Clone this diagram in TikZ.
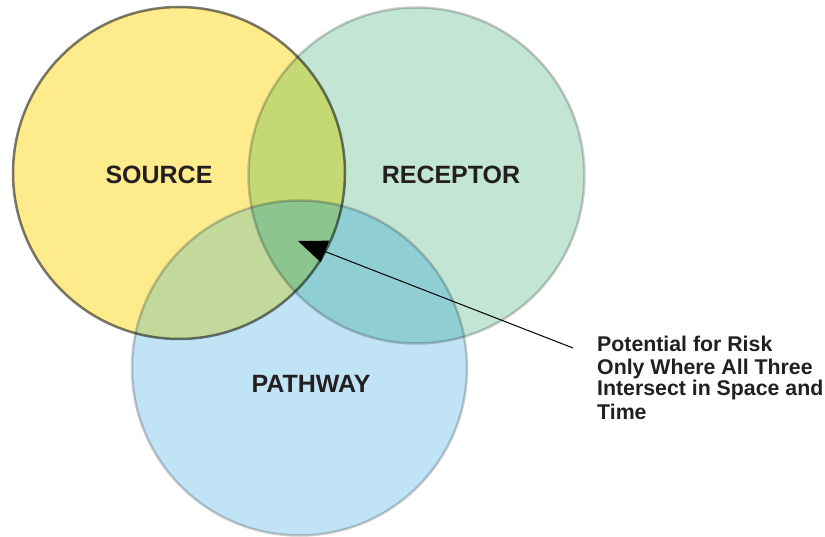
\documentclass[tikz,border=0pt]{standalone}
\usepackage{fontspec}
\setmainfont{Liberation Sans}
\usetikzlibrary{arrows.meta}

% region colours of the three-set diagram
\definecolor{srcOnly}{HTML}{FDEB8C}
\definecolor{recOnly}{HTML}{C3E5D4}
\definecolor{pathOnly}{HTML}{C0E3F5}
\definecolor{srcRec}{HTML}{C4D873}
\definecolor{srcPath}{HTML}{C2D99B}
\definecolor{recPath}{HTML}{8FCFD3}
\definecolor{allThree}{HTML}{8DC58E}
\definecolor{ink}{HTML}{231F20}

\begin{document}
\begin{tikzpicture}[x=1pt,y=-1pt,
  setlabel/.style={font=\bfseries\fontsize{25}{30}\selectfont, text=ink, inner sep=0pt},
  notetext/.style={font=\bfseries\fontsize{21.3}{22.6}\selectfont, text=ink, inner sep=0pt, align=left},
  darkrim/.style={draw=black, draw opacity=0.52, line width=2.5pt},
  lightrim/.style={draw=black, draw opacity=0.2, line width=2.5pt},
  pointer/.style={draw=black, line width=1pt, -{Triangle[length=29pt,width=23pt]}}]

\useasboundingbox (0,0) rectangle (825,537);

% centres of the three sets
\coordinate (sc) at (179,173);
\coordinate (rc) at (416.5,175.5);
\coordinate (pc) at (299.5,368);
\def\rs{166pt}
\def\rr{168pt}
\def\rp{167.5pt}

% single-set fills
\fill[srcOnly] (sc) circle[radius=\rs];
\fill[recOnly] (rc) circle[radius=\rr];
\fill[pathOnly] (pc) circle[radius=\rp];

% pairwise overlaps
\begin{scope}
  \clip (sc) circle[radius=\rs];
  \fill[srcRec] (rc) circle[radius=\rr];
  \fill[srcPath] (pc) circle[radius=\rp];
\end{scope}
\begin{scope}
  \clip (rc) circle[radius=\rr];
  \fill[recPath] (pc) circle[radius=\rp];
\end{scope}

% common core
\begin{scope}
  \clip (sc) circle[radius=\rs];
  \clip (rc) circle[radius=\rr];
  \fill[allThree] (pc) circle[radius=\rp];
\end{scope}

% outlines
\draw[lightrim] (rc) circle[radius=\rr];
\draw[lightrim] (pc) circle[radius=\rp];
\draw[darkrim] (sc) circle[radius=\rs];

% set names
\node[setlabel] (source) at (159,175) {SOURCE};
\node[setlabel] (receptor) at (451,175) {RECEPTOR};
\node[setlabel] (pathway) at (311,384) {PATHWAY};

% annotation and its pointer
\node[notetext, anchor=north west] (note) at (597,336.3)
  {Potential for Risk\\Only Where All Three\\[-1.9pt]Intersect in Space and\\[1.7pt]Time};
\coordinate (tail) at (573,348);
\coordinate (core) at (298,241);
\draw[pointer] (tail) -- (core);

\end{tikzpicture}
\end{document}
